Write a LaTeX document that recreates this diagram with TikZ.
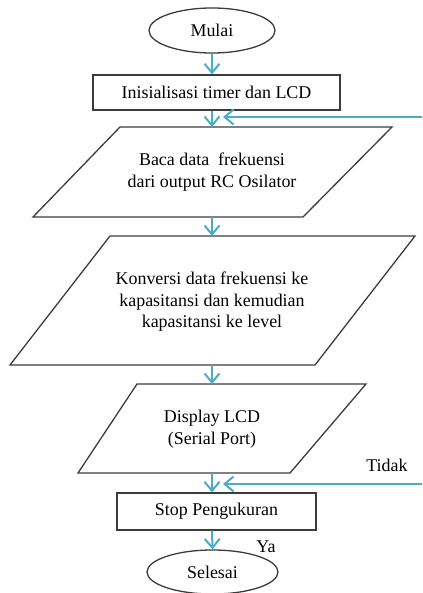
\documentclass[tikz,border=0pt]{standalone}
\usepackage{fontspec}
\setmainfont{Liberation Serif}
\usepackage{tikz}
\usetikzlibrary{arrows.meta,shapes.geometric}
\definecolor{flowblue}{RGB}{75,172,198}
\definecolor{edgegray}{RGB}{60,60,60}
\tikzset{
	shapeline/.style={draw=edgegray, line width=1.3bp},
	terminal/.style={shapeline, ellipse, inner sep=0pt},
	process/.style={shapeline, rectangle, inner sep=0pt},
	label/.style={align=center, inner sep=0pt, font=\fontsize{18}{21.5}\selectfont},
	flow/.style={draw=flowblue, line width=2bp, -{Straight Barb[length=9bp,width=15bp]}},
}

\begin{document}
\begin{tikzpicture}[x=1bp, y=-1bp]
			%%%%% START %%%%%
			\useasboundingbox (0, 0) rectangle (422, 593);
			
			\node[terminal, minimum width=126bp, minimum height=45bp, label] (mulai) at (212, 30.5) {Mulai};
			\node[process, minimum width=247bp, minimum height=35bp, label] (init) at (216.5, 92.5) {Inisialisasi timer dan LCD};
			
			\draw[shapeline] (120, 127) -- (392, 127) -- (303, 217) -- (33, 217) -- cycle;
			\coordinate (baca top) at (212, 127);
			\coordinate (baca bot) at (212, 217);
			\node[label] (baca) at (212, 172) {Baca data\ \ frekuensi\\dari output RC Osilator};
			
			\draw[shapeline] (110, 236) -- (415, 236) -- (315, 365) -- (10, 365) -- cycle;
			\coordinate (konv top) at (212, 236);
			\coordinate (konv bot) at (212, 365);
			\node[label] (konv) at (212, 302) {Konversi data frekuensi ke\\kapasitansi dan kemudian\\kapasitansi ke level};
			
			\draw[shapeline] (137, 384) -- (366, 384) -- (290, 473) -- (78, 473) -- cycle;
			\coordinate (disp top) at (212, 384);
			\coordinate (disp bot) at (212, 473);
			\node[label] (disp) at (212, 429) {Display LCD\\(Serial Port)};
			
			\node[process, minimum width=199bp, minimum height=37bp, label] (stop) at (216.5, 511.5) {Stop Pengukuran};
			\node[terminal, minimum width=131bp, minimum height=44bp, label] (selesai) at (212.5, 572) {Selesai};
			
			\node[label] (tidak) at (387, 465) {Tidak};
			\node[label] (ya) at (266, 547) {Ya};
			
			% main flow
			\draw[flow] (mulai.south) -- (mulai.south |- init.north);
			\draw[flow] (mulai.south |- init.south) -- (baca top);
			\draw[flow] (baca bot) -- (konv top);
			\draw[flow] (konv bot) -- (disp top);
			\draw[flow] (disp bot) -- (disp bot |- stop.north);
			\draw[flow] (disp bot |- stop.south) -- (selesai.north);
			
			% loops back from the right edge
			\coordinate (loop1 in) at (422, 117);
			\coordinate (loop1 tip) at (223, 117);
			\draw[flow] (loop1 in) -- (loop1 tip);
			\coordinate (loop2 in) at (422, 484);
			\coordinate (loop2 tip) at (223, 484);
			\draw[flow] (loop2 in) -- (loop2 tip);
			%%%%% END %%%%%
		\end{tikzpicture}
\end{document}
